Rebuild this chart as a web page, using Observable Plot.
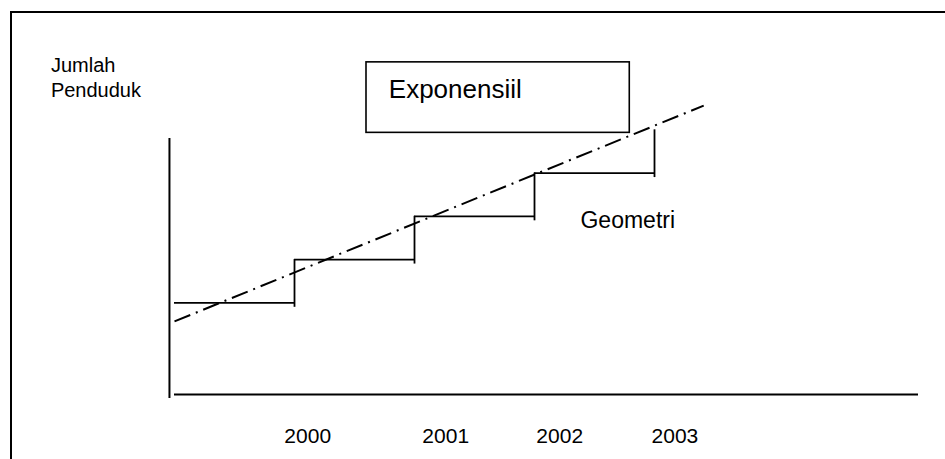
<!DOCTYPE html>
<html>
<head>
<meta charset="utf-8">
<script src="https://cdn.jsdelivr.net/npm/d3@7"></script>
<script src="https://cdn.jsdelivr.net/npm/@observablehq/plot@0.6"></script>
<style>
  html, body { margin: 0; padding: 0; background: #fff; }
  #wrap { position: relative; width: 945px; height: 459px; overflow: hidden; }
  #chart { position: absolute; left: 0; top: 0; }
  #frame { position: absolute; left: 10px; top: 11px; width: 935px; height: 448px;
           border-top: 2px solid #000; border-left: 2px solid #000; box-sizing: border-box; pointer-events: none; }
</style>
</head>
<body>
<div id="wrap"><div id="chart"></div><div id="frame"></div></div>
<script>
// Step boundaries (years) and Geometri levels (population, arbitrary units)
const stepYears = [1999, 2000, 2001, 2002, 2003];
const geometriLevels = [100, 110, 120, 130, 140];
// Exponensiil straight dash-dot trend (endpoints)
const expYears = [1999, 2003.41];
const expValues = [95.7, 145.6];
// Tick labels and where they sit along the year axis
const tickLabels = ["2000", "2001", "2002", "2003"];
const tickYears = [2000.11, 2001.26, 2002.21, 2003.17];
// Axis extents (data units)
const xAxisLevel = 78.8;
const yAxisYear = 1998.958;
const yAxisRange = [77.9, 138];
// Annotation anchors (data units)
const yLabelAnchor = {x: 1997.97, y: 147.7};
const expBox = {x1: 2000.6, x2: 2002.794, y1: 139.3, y2: 155.6};
const expLabelAnchor = {x: 2000.786, y: 147.3};
const geoLabelAnchor = {x: 2002.383, y: 117.3};

const font = "'Liberation Sans', Arial, Helvetica, sans-serif";
const idx4 = d3.range(4);

const chart = Plot.plot({
  width: 945,
  height: 459,
  marginLeft: 174,
  marginRight: 27,
  marginTop: 107.7,
  marginBottom: 65,
  style: {fontFamily: font, color: "#000", background: "transparent", overflow: "visible"},
  x: {domain: [1999, 2005.2], axis: null},
  y: {domain: [78.8, 145], axis: null},
  marks: [
    // axes lines
    Plot.ruleY([xAxisLevel], {stroke: "#000", strokeWidth: 2.2}),
    Plot.ruleX([yAxisYear], {y1: yAxisRange[0], y2: yAxisRange[1], stroke: "#000", strokeWidth: 2}),
    Plot.axisX(tickYears, {
      anchor: "bottom", tickSize: 0, tickPadding: 33.4, fontSize: 21, label: null,
      tickFormat: (d) => tickLabels[tickYears.indexOf(d)], fill: "#000"
    }),
    // Exponensiil dash-dot line
    Plot.line(expYears.map((x, i) => ({x, y: expValues[i]})), {
      x: "x", y: "y", stroke: "#000", strokeWidth: 2, strokeDasharray: "17,6,2,6", strokeLinecap: "butt"
    }),
    // Geometri steps
    Plot.ruleY(idx4, {
      x1: (i) => stepYears[i], x2: (i) => stepYears[i + 1], y: (i) => geometriLevels[i],
      stroke: "#000", strokeWidth: 1.8
    }),
    Plot.ruleX(idx4, {
      x: (i) => stepYears[i + 1], y1: (i) => geometriLevels[i + 1], y2: (i) => geometriLevels[i],
      insetBottom: -4.5, stroke: "#000", strokeWidth: 1.8
    }),
    // Exponensiil box + label
    Plot.rect([expBox], {x1: "x1", x2: "x2", y1: "y1", y2: "y2", fill: "none", stroke: "#000", strokeWidth: 1.6}),
    Plot.text(["Exponensiil"], {
      x: expLabelAnchor.x, y: expLabelAnchor.y, text: (d) => d,
      textAnchor: "start", lineAnchor: "bottom", fontSize: 26, fill: "#000"
    }),
    Plot.text(["Geometri"], {
      x: geoLabelAnchor.x, y: geoLabelAnchor.y, text: (d) => d,
      textAnchor: "start", lineAnchor: "bottom", fontSize: 23, fill: "#000"
    }),
    Plot.text(["Jumlah\nPenduduk"], {
      x: yLabelAnchor.x, y: yLabelAnchor.y, text: (d) => d,
      textAnchor: "start", lineAnchor: "bottom", lineHeight: 1.25, fontSize: 20, fill: "#000"
    })
  ]
});
document.getElementById("chart").appendChild(chart);
</script>
</body>
</html>
